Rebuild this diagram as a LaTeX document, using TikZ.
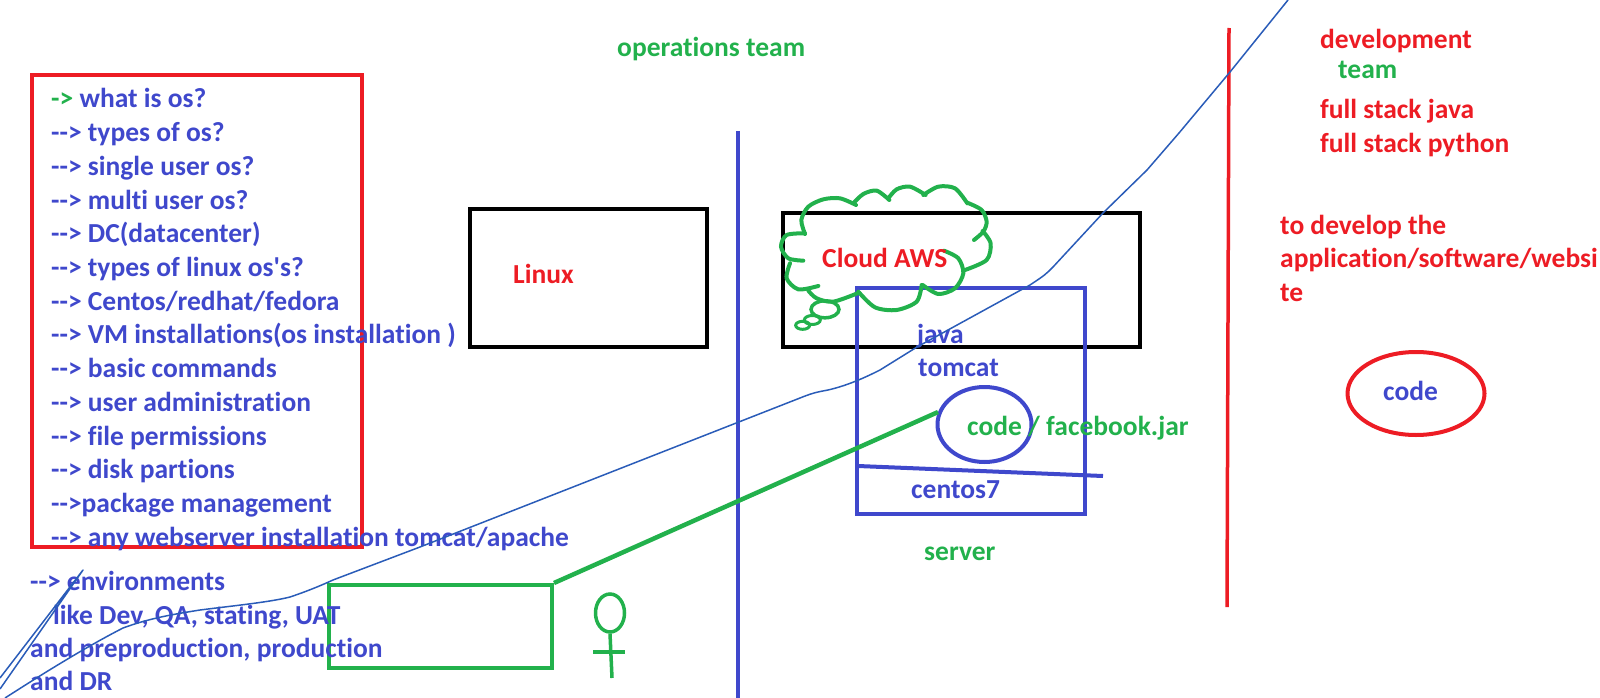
\documentclass[tikz,border=0pt]{standalone}
\usepackage{fontspec}
\newfontfamily\pf[Ligatures=NoCommon]{Carlito}
\usetikzlibrary{shapes.geometric}
\definecolor{pblue}{HTML}{3F48CC}
\definecolor{pred}{HTML}{ED1C24}
\definecolor{pgreen}{HTML}{22B14C}
\definecolor{thinb}{HTML}{2A5CB8}
\tikzset{
  lbl/.style={anchor=base west,inner sep=0pt,font=\pf\fontsize{27.5}{27.5}\selectfont\bfseries},
  bl/.style={lbl,text=pblue},
  rd/.style={lbl,text=pred},
  gr/.style={lbl,text=pgreen},
  boxn/.style={draw,rectangle,inner sep=0pt,line width=#1},
  ell/.style={draw,ellipse,inner sep=0pt,line width=4pt},
  thin line/.style={draw=thinb,line width=1.5pt,line join=round},
  cloudl/.style={draw=pgreen,line width=4pt,line cap=round}
}
\begin{document}
\begin{tikzpicture}[x=1pt,y=-1pt]
\useasboundingbox (0,0) rectangle (1600,698);
% boxes
\node[boxn=4.5pt,draw=pred,minimum width=330pt,minimum height=472pt] (listbox) at (197,311) {};
\node[boxn=4pt,draw=black,minimum width=237pt,minimum height=138pt] (linuxbox) at (588.5,278) {};
\node[boxn=4pt,draw=black,minimum width=357pt,minimum height=134pt] (cloudbox) at (961.5,280) {};
\node[boxn=4pt,draw=pblue,minimum width=228pt,minimum height=226pt] (serverbox) at (971,401) {};
\node[boxn=4pt,draw=pgreen,minimum width=223pt,minimum height=83pt] (greenbox) at (440.5,626.5) {};
\node[ell,draw=pblue,minimum width=94pt,minimum height=75pt] (codeell) at (984.5,424.5) {};
\node[ell,draw=pred,minimum width=137pt,minimum height=83pt] (redell) at (1416,393.5) {};
\node[ell,draw=pgreen,line width=3.5pt,minimum width=29pt,minimum height=38pt] (head) at (610,613) {};
% rules
\coordinate (bluetop) at (738,131);
\coordinate (bluebot) at (738,698);
\draw[pblue,line width=4pt] (bluetop) -- (bluebot);
\coordinate (redtop) at (1229,28);
\coordinate (redbot) at (1227,607);
\draw[pred,line width=3.5pt] (redtop) -- (redbot);
\coordinate (ruleL) at (858,466);
\coordinate (ruleR) at (1103,476);
\draw[pblue,line width=4pt] (ruleL) -- (ruleR);
% person
\coordinate (feet) at (612,678);
\coordinate (armL) at (593,652);
\coordinate (armR) at (625,652);
\draw[pgreen,line width=3.5pt] (head.south) -- (feet);
\draw[pgreen,line width=3.5pt] (armL) -- (armR);
% cloud
\begin{scope}[shift={(760,170)},x=0.3333pt,y=-0.3333pt]
\draw[cloudl] plot[smooth] coordinates {(135,192) (124,150) (145,110) (190,88) (240,85) (288,105)};
\draw[cloudl] plot[smooth] coordinates {(280,100) (310,72) (350,62) (388,90)};
\draw[cloudl] plot[smooth] coordinates {(385,85) (410,58) (450,50) (497,75)};
\draw[cloudl] plot[smooth] coordinates {(490,75) (535,50) (585,55) (622,100)};
\draw[cloudl] plot[smooth] coordinates {(622,98) (665,120) (680,155) (670,185) (642,210)};
\draw[cloudl] plot[smooth] coordinates {(668,183) (692,220) (680,270) (615,300)};
\draw[cloudl] plot[smooth] coordinates {(552,242) (595,265) (610,310) (585,355) (535,372) (488,345)};
\draw[cloudl] plot[smooth] coordinates {(485,345) (470,395) (410,420) (345,412) (295,365)};
\draw[cloudl] plot[smooth] coordinates {(297,368) (220,395) (170,385) (145,362)};
\draw[cloudl] plot[smooth] coordinates {(175,348) (115,358) (80,325) (90,280)};
\draw[cloudl] plot[smooth] coordinates {(130,272) (85,265) (63,230) (80,195) (135,190)};
\node[ell,draw=pgreen,line width=3.5pt,minimum width=28pt,minimum height=17pt] (puff1) at (195,418) {};
\node[ell,draw=pgreen,line width=3pt,minimum width=16pt,minimum height=9pt] (puff2) at (157,450) {};
\node[ell,draw=pgreen,line width=3pt,minimum width=14pt,minimum height=8pt] (puff3) at (128,466) {};
\end{scope}
% list text
\node[lbl] (t0) at (51,108) {\textcolor{pgreen}{->} \textcolor{pblue}{what is os?}};
\node[bl] (t1) at (51,141.7) {--> types of os?};
\node[bl] (t2) at (51,175.4) {--> single user os?};
\node[bl] (t3) at (51,209.1) {--> multi user os?};
\node[bl] (t4) at (51,242.8) {--> DC(datacenter)};
\node[bl] (t5) at (51,276.5) {--> types of linux os's?};
\node[bl] (t6) at (51,310.2) {--> Centos/redhat/fedora};
\node[bl] (t7) at (51,343.9) {--> VM installations(os installation )};
\node[bl] (t8) at (51,377.6) {--> basic commands};
\node[bl] (t9) at (51,411.3) {--> user administration};
\node[bl] (t10) at (51,445) {--> file permissions};
\node[bl] (t11) at (51,478.7) {--> disk partions};
\node[bl] (t12) at (51,512.4) {-->package management};
\node[bl] (t13) at (51,546.1) {--> any webserver installation tomcat/apache};
\node[bl] (e0) at (30,590) {--> environments};
\node[bl] (e1) at (53,624) {like Dev, QA, stating, UAT};
\node[bl] (e2) at (30,657) {and preproduction, production};
\node[bl] (e3) at (30,690) {and DR};
% other labels
\node[gr] (ops) at (617,57) {operations team};
\node[rd] (dev) at (1320,49) {development};
\node[gr] (devt) at (1338,79) {team};
\node[rd] (fsj) at (1320,118) {full stack java};
\node[rd] (fsp) at (1320,152) {full stack python};
\node[rd] (td1) at (1280,234) {to develop the};
\node[rd] (td2) at (1280,267) {application/software/websi};
\node[rd] (td3) at (1280,301) {te};
\node[rd] (linux) at (513,283) {Linux};
\node[rd] (aws) at (822,267) {Cloud AWS};
\node[bl] (java) at (917,343) {java};
\node[bl] (tomcat) at (918,376) {tomcat};
\node[gr] (jar) at (967,435) {code / facebook.jar};
\node[bl] (centos) at (911,498) {centos7};
\node[gr] (srv) at (924,560) {server};
\node[bl] (rcode) at (1383,400) {code};
% green connector
\draw[pgreen,line width=4.5pt] (greenbox.north east) -- (codeell.165);
% thin line
\coordinate (tA) at (5,698);
\coordinate (tB) at (1288,0);
\draw[thin line] (tA) .. controls (30,682) and (80,650) .. (123,628) .. controls (150,618) and (175,614) .. (200,610) .. controls (240,605) and (270,602) .. (290,597) .. controls (305,592) and (320,586) .. (333,580) -- (420,547) -- (800,398) .. controls (815,392) and (818,392) .. (828,390) .. controls (850,385) and (870,375) .. (880,370) -- (917,347) -- (1030,285) .. controls (1045,275) and (1045,275) .. (1053,267) -- (1103,213) -- (1147,170) -- (1179,133) -- (1230,72) -- (tB);
\coordinate (dA) at (83,570);
\coordinate (dB) at (0,678);
\coordinate (dC) at (0,689);
\draw[thin line] (dB) -- (dA) -- (dC);
\end{tikzpicture}
\end{document}
